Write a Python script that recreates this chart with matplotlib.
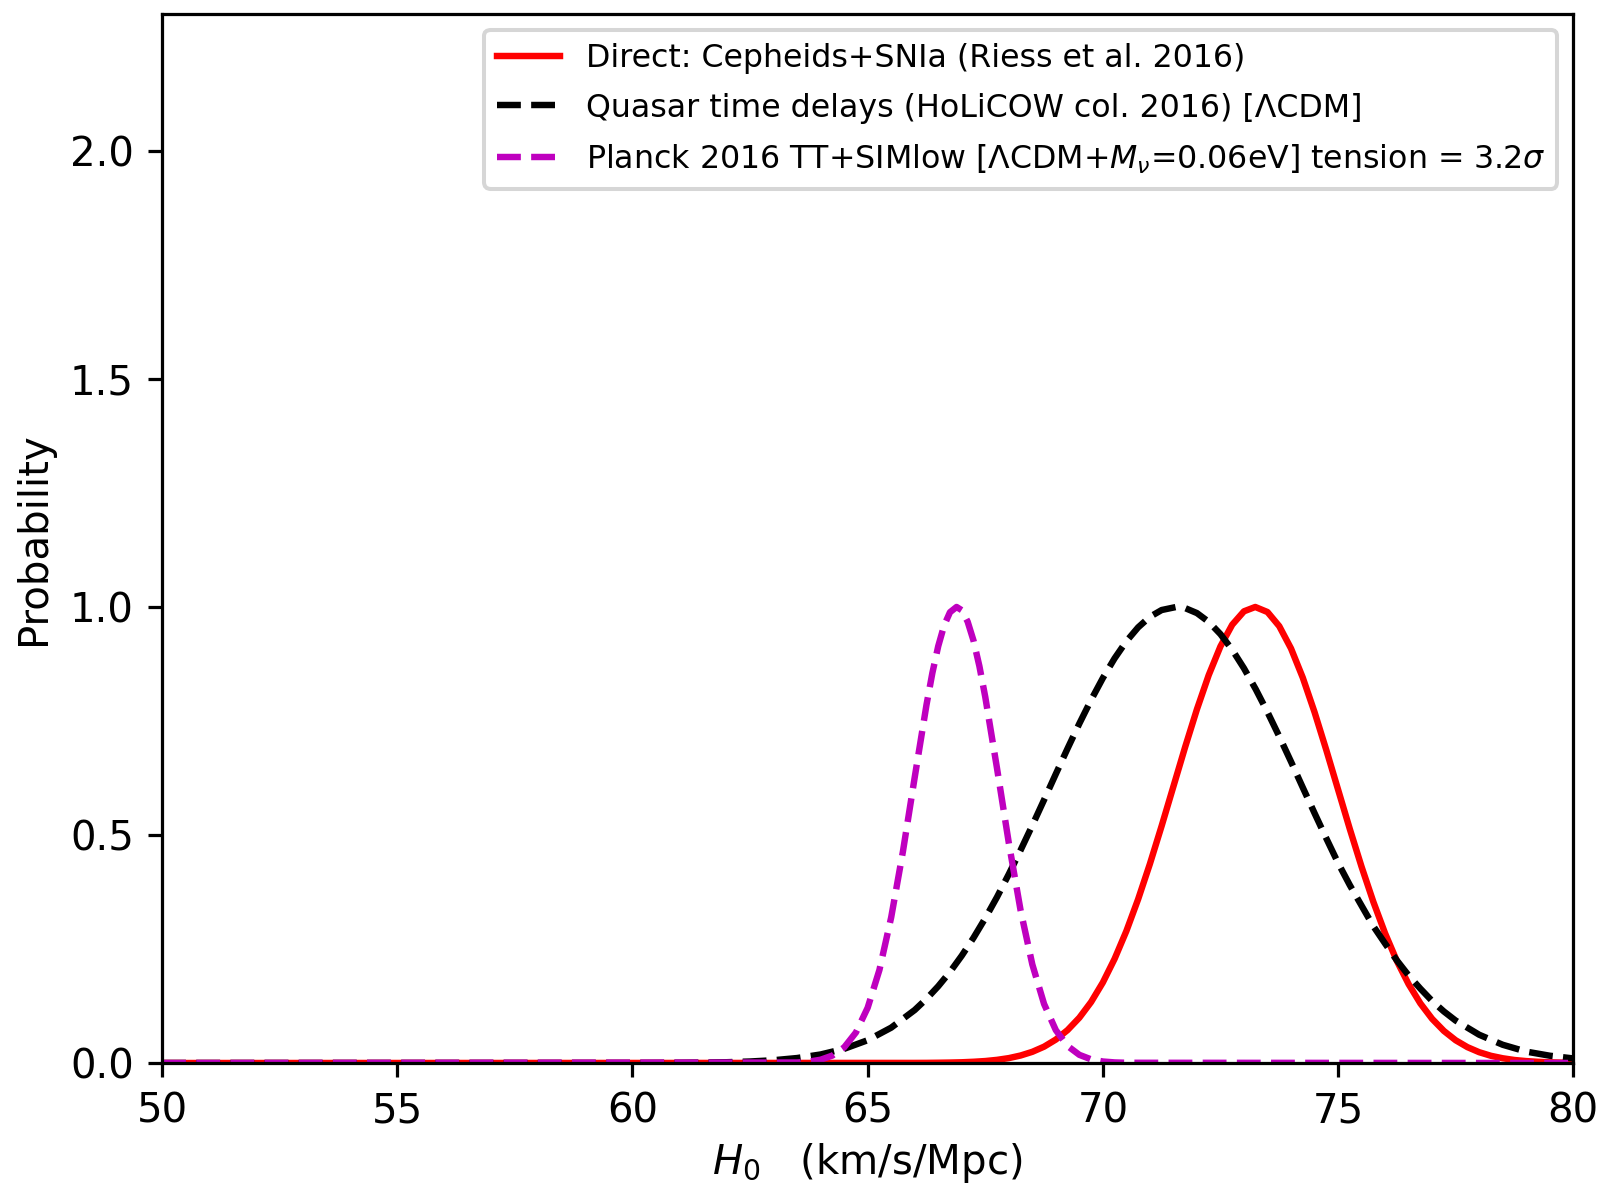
import numpy as np
import matplotlib.pyplot as plt

# ---------- H0 probability curves (peak-normalised) ----------

# Direct: Cepheids + SNIa
h0_riess = [50.0, 66.0, 66.25, 66.5, 66.75, 67.0, 67.25, 67.5, 67.75, 68.0, 68.25,
            68.5, 68.75, 69.0, 69.25, 69.5, 69.75, 70.0, 70.25, 70.5, 70.75,
            71.0, 71.25, 71.5, 71.75, 72.0, 72.25, 72.5, 72.75, 73.0, 73.24,
            73.5, 73.75, 74.0, 74.25, 74.5, 74.75, 75.0, 75.25, 75.5, 75.75,
            76.0, 76.25, 76.5, 76.75, 77.0, 77.25, 77.5, 77.75, 78.0, 78.25,
            78.5, 78.75, 79.0, 79.25, 79.5, 79.75, 80.0]
p_riess = [0.0, 0.0002, 0.0003, 0.0006, 0.0010, 0.0016, 0.0027, 0.0043, 0.0069,
           0.0107, 0.0164, 0.0245, 0.0358, 0.0514, 0.0722, 0.0993, 0.1337,
           0.1766, 0.2285, 0.2894, 0.3592, 0.4366, 0.5200, 0.6065, 0.6931,
           0.7757, 0.8505, 0.9136, 0.9611, 0.9905, 1.0, 0.9889, 0.9579, 0.9090,
           0.8450, 0.7694, 0.6863, 0.5997, 0.5131, 0.4303, 0.3535, 0.2843,
           0.2238, 0.1729, 0.1307, 0.0968, 0.0703, 0.0499, 0.0348, 0.0237,
           0.0158, 0.0104, 0.0066, 0.0042, 0.0026, 0.0015, 0.0009, 0.0005]

# Quasar time delays (HoLiCOW)
h0_holicow = [50.0, 60.0, 60.5, 61.0, 61.5, 62.0, 62.5, 63.0, 63.5, 64.0, 64.5,
              65.0, 65.5, 66.0, 66.25, 66.5, 66.75, 67.0, 67.25, 67.5, 67.75,
              68.0, 68.25, 68.5, 68.75, 69.0, 69.25, 69.5, 69.75, 70.0, 70.25,
              70.5, 70.75, 71.0, 71.25, 71.56, 71.75, 72.0, 72.25, 72.5, 72.75,
              73.0, 73.25, 73.5, 73.75, 74.0, 74.25, 74.5, 74.75, 75.0, 75.25,
              75.5, 75.75, 76.0, 76.25, 76.5, 76.75, 77.0, 77.25, 77.5, 78.0,
              78.5, 79.0, 79.5, 80.0]
p_holicow = [0.0, 0.0001, 0.0002, 0.0004, 0.0009, 0.0017, 0.0033, 0.0061, 0.0109,
             0.0187, 0.0311, 0.0500, 0.0775, 0.1162, 0.1406, 0.1683, 0.1997,
             0.2353, 0.2745, 0.3175, 0.3639, 0.4140, 0.4665, 0.5210, 0.5770,
             0.6338, 0.6897, 0.7443, 0.7961, 0.8442, 0.8874, 0.9248, 0.9553,
             0.9784, 0.9933, 1.0, 0.9975, 0.9866, 0.9674, 0.9404, 0.9061,
             0.8655, 0.8196, 0.7695, 0.7161, 0.6608, 0.6041, 0.5479, 0.4926,
             0.4388, 0.3900, 0.3450, 0.3000, 0.2620, 0.2250, 0.1920, 0.1630,
             0.1360, 0.1130, 0.0930, 0.0620, 0.0400, 0.0250, 0.0160, 0.0100]

# Planck 2016 TT+SIMlow
h0_planck = [50.0, 63.5, 63.75, 64.0, 64.25, 64.5, 64.75, 65.0, 65.25, 65.5,
             65.75, 66.0, 66.25, 66.375, 66.5, 66.625, 66.75, 66.89, 67.0,
             67.125, 67.25, 67.375, 67.5, 67.75, 68.0, 68.25, 68.5, 68.75, 69.0,
             69.25, 69.5, 69.75, 70.0, 70.25, 70.5, 80.0]
p_planck = [0.0, 0.0011, 0.0030, 0.0072, 0.0163, 0.0342, 0.0669, 0.1212, 0.2041,
            0.3194, 0.4641, 0.6264, 0.7851, 0.8550, 0.9140, 0.9594, 0.9885, 1.0,
            0.9929, 0.9679, 0.9263, 0.8703, 0.8027, 0.6460, 0.4829, 0.3353,
            0.2163, 0.1295, 0.0721, 0.0373, 0.0179, 0.0080, 0.0033, 0.0013,
            0.0005, 0.0]

labels = ['Direct: Cepheids+SNIa (Riess et al. 2016)',
          'Quasar time delays (HoLiCOW col. 2016) [ΛCDM]',
          r'Planck 2016 TT+SIMlow [ΛCDM+$M_{\nu}$=0.06eV] tension = 3.2$\sigma$']

# ---------- Plotting ----------

fig = plt.figure(figsize=(5.534, 4.090), dpi=290)
ax = fig.add_axes([0.101, 0.1037, 0.8793, 0.8843])

lw = 1.6
ax.plot(h0_riess, p_riess, color='r', linestyle='-', linewidth=lw, label=labels[0])
ax.plot(h0_holicow, p_holicow, color='k', linestyle='--', linewidth=lw, label=labels[1])
ax.plot(h0_planck, p_planck, color='m', linestyle='--', linewidth=lw, label=labels[2])

ax.set_xlim(50, 80)
ax.set_ylim(0, 2.3)
ax.set_xticks(np.arange(50, 81, 5))
ax.set_yticks(np.arange(0, 2.01, 0.5))
ax.set_xlabel(r'$H_0$   (km/s/Mpc)', labelpad=2.5)
ax.set_ylabel('Probability')
ax.legend(loc='upper right', fontsize=7.85, labelspacing=0.6)

fig.savefig('out.png', dpi=290)
